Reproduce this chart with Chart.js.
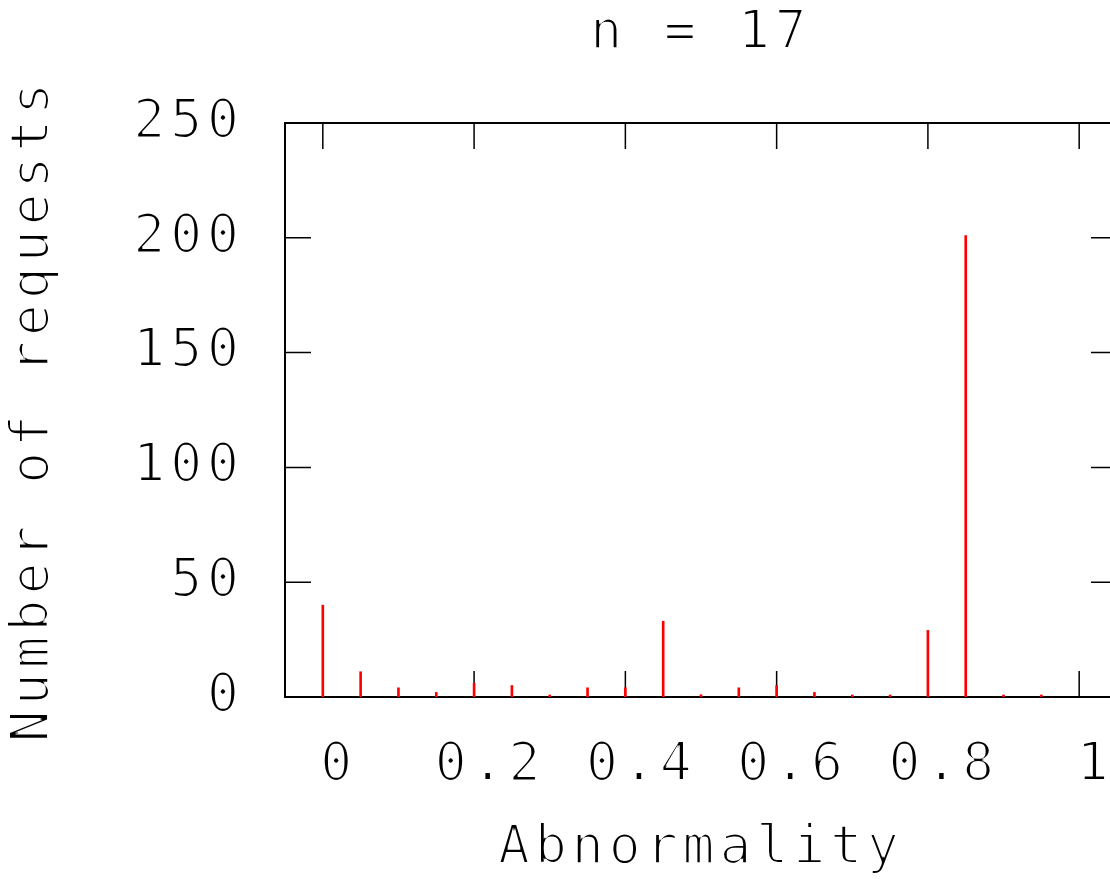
<!DOCTYPE html>
<html lang="en">
<head>
<meta charset="UTF-8">
<title>n = 17</title>
<script src="https://cdn.jsdelivr.net/npm/chart.js@4"></script>
<style>
  html, body { margin: 0; padding: 0; background: #fff; overflow: hidden; }
  canvas { display: block; }
</style>
</head>
<body>
<!-- thins the text strokes a little, closer to gnuplot's vector font -->
<svg width="0" height="0" style="position:absolute">
  <filter id="thin"><feMorphology operator="erode" radius="1"/></filter>
</svg>
<canvas id="hist" width="1130" height="879"></canvas>
<script>
// histogram bins (abnormality score) and number of requests in each bin
const abnormality = [0, 0.05, 0.1, 0.15, 0.2, 0.25, 0.3, 0.35, 0.4, 0.45,
                     0.5, 0.55, 0.6, 0.65, 0.7, 0.75, 0.8, 0.85, 0.9, 0.95];
const requests    = [40, 11, 4, 2, 6, 5, 0, 4, 4, 33,
                     1, 4, 5, 2, 0, 0, 29, 201, 0, 0];
const xTicks = [0, 0.2, 0.4, 0.6, 0.8, 1];
const yTicks = [0, 50, 100, 150, 200, 250];

const font = { family: "'DejaVu Sans Mono', monospace", size: 53, weight: 'normal', lineHeight: 1 };

// gnuplot look: full border, ticks pointing inwards on all four sides
const frame = {
  id: 'frame',
  beforeDraw(chart) {
    chart.ctx.letterSpacing = '5px';
    chart.ctx.filter = 'url(#thin)';
  },
  beforeDatasetsDraw(chart) {
    const { ctx, chartArea: a, scales: { x, y } } = chart;
    ctx.filter = 'none';
    ctx.save();
    ctx.strokeStyle = '#000';
    ctx.lineWidth = 2;
    ctx.strokeRect(a.left, a.top, a.right - a.left, a.bottom - a.top);
    ctx.lineWidth = 1.5;
    ctx.beginPath();
    x.ticks.forEach(t => {
      const px = x.getPixelForValue(t.value);
      ctx.moveTo(px, a.bottom); ctx.lineTo(px, a.bottom - 26);
      ctx.moveTo(px, a.top); ctx.lineTo(px, a.top + 26);
    });
    y.ticks.forEach(t => {
      const py = y.getPixelForValue(t.value);
      ctx.moveTo(a.left, py); ctx.lineTo(a.left + 26, py);
      ctx.moveTo(a.right, py); ctx.lineTo(a.right - 26, py);
    });
    ctx.stroke();
    ctx.restore();
  }
};

new Chart(document.getElementById('hist'), {
  type: 'bar',
  data: {
    datasets: [{
      data: abnormality.map((v, i) => ({ x: v, y: requests[i] })),
      backgroundColor: '#ff0000',
      borderWidth: 0,
      barThickness: 2,
      minBarLength: 2
    }]
  },
  options: {
    responsive: false,
    animation: false,
    devicePixelRatio: 1,
    layout: { padding: { left: 0, top: 0, right: 13, bottom: 0 } },
    plugins: {
      legend: { display: false },
      tooltip: { enabled: false },
      title: {
        display: true,
        text: 'n = 17',
        color: '#000',
        font: font,
        fullSize: false,
        padding: { top: 8, bottom: 62 }
      }
    },
    scales: {
      x: {
        type: 'linear',
        min: -0.05,
        max: 1.05,
        offset: false,
        grid: { display: false, drawTicks: false },
        border: { display: false },
        afterBuildTicks: s => { s.ticks = xTicks.map(v => ({ value: v })); },
        afterFit: s => { s.height = 182; s.paddingLeft = 0; s.paddingRight = 0; },
        ticks: {
          color: '#000',
          font: font,
          padding: 43,
          labelOffset: 16,
          maxRotation: 0,
          autoSkip: false,
          callback: v => String(+v.toFixed(2))
        },
        title: {
          display: true,
          text: 'Abnormality',
          color: '#000',
          font: font,
          padding: { top: 0, bottom: 3 }
        }
      },
      y: {
        type: 'linear',
        min: 0,
        max: 250,
        grid: { display: false, drawTicks: false },
        border: { display: false },
        afterBuildTicks: s => { s.ticks = yTicks.map(v => ({ value: v })); },
        afterFit: s => { s.width = 285; },
        ticks: {
          color: '#000',
          font: font,
          padding: 41,
          autoSkip: false
        },
        title: {
          display: true,
          text: 'Number of requests',
          color: '#000',
          font: font,
          padding: { top: 8, bottom: 0 }
        }
      }
    }
  },
  plugins: [frame]
});
</script>
</body>
</html>
